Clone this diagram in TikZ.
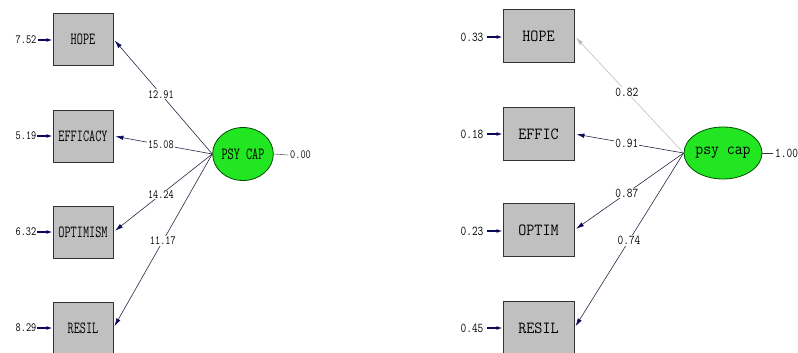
\documentclass[tikz,border=0pt]{standalone}
\usepackage{fontspec}
\usepackage{graphicx}
\usetikzlibrary{shapes.geometric,arrows.meta}
\definecolor{boxgray}{RGB}{192,192,192}
\definecolor{latgreen}{RGB}{34,230,34}
\definecolor{navy}{RGB}{10,10,90}
\definecolor{linedark}{RGB}{40,40,70}
\newcommand\sqz[2]{\scalebox{#1}[1]{#2}}
\tikzset{
  lbox/.style={draw=black!80, fill=boxgray, line width=0.9pt, minimum width=60pt, minimum height=52pt, inner sep=0pt, font=\ttfamily\fontsize{17}{17}\selectfont},
  rbox/.style={lbox, minimum width=71pt, minimum height=53pt},
  lat/.style={ellipse, draw=black!70!green, fill=latgreen, line width=0.8pt, inner sep=0pt, font=\ttfamily\fontsize{17}{17}\selectfont},
  numlab/.style={fill=white, inner sep=1pt, font=\ttfamily\fontsize{12.5}{12.5}\selectfont},
  rnumlab/.style={numlab, font=\ttfamily\fontsize{13.5}{13.5}\selectfont},
  errlab/.style={inner sep=0pt, font=\ttfamily\fontsize{12.5}{12.5}\selectfont},
  rerrlab/.style={errlab, font=\ttfamily\fontsize{13.5}{13.5}\selectfont},
  load/.style={draw=linedark, line width=0.6pt, -{Latex[length=8pt,width=4.5pt,fill=navy,color=navy]}, shorten >=2pt},
  loadgray/.style={draw=black!25, line width=0.6pt, -{Latex[length=8pt,width=4.5pt,fill=black!25,color=black!25]}, shorten >=2pt},
  erra/.style={draw=navy, line width=1.2pt, -{Latex[length=6pt,width=4pt]}},
  varline/.style={draw=black!60, line width=0.6pt}
}
\begin{document}
\begin{tikzpicture}[x=1pt,y=-1pt]
\useasboundingbox (0,0) rectangle (798,353);
% ---------- left model ----------
\node[lbox] (hopeL) at (83,39) {\sqz{0.7}{HOPE}};
\node[lbox] (effL) at (83,136) {\sqz{0.7}{EFFICACY}};
\node[lbox] (optL) at (83,232) {\sqz{0.7}{OPTIMISM}};
\node[lbox] (resL) at (83,328) {\sqz{0.7}{RESIL}};
\node[lat, minimum width=60pt, minimum height=53pt] (psyL) at (243,154) {\sqz{0.7}{PSY CAP}};
\node[errlab] (e1L) at (26,40) {\sqz{0.8}{7.52}};
\node[errlab] (e2L) at (26,136) {\sqz{0.8}{5.19}};
\node[errlab] (e3L) at (26,232) {\sqz{0.8}{6.32}};
\node[errlab] (e4L) at (26,328) {\sqz{0.8}{8.29}};
\draw[erra] ([xshift=1pt]e1L.east) -- (hopeL.west |- e1L.east);
\draw[erra] ([xshift=1pt]e2L.east) -- (effL.west |- e2L.east);
\draw[erra] ([xshift=1pt]e3L.east) -- (optL.west |- e3L.east);
\draw[erra] ([xshift=1pt]e4L.east) -- (resL.west |- e4L.east);
\draw[load] (psyL.west) -- (hopeL.east) node[numlab, pos=0.52] {\sqz{0.8}{12.91}};
\draw[load] (psyL.west) -- (effL.east) node[numlab, pos=0.52] {\sqz{0.8}{15.08}};
\draw[load] (psyL.west) -- (optL.east) node[numlab, pos=0.52] {\sqz{0.8}{14.24}};
\draw[load] (psyL.west) -- (resL.east) node[numlab, pos=0.5] {\sqz{0.8}{11.17}};
\node[errlab, anchor=west] (vL) at (290,155) {\sqz{0.8}{0.00}};
\draw[varline] (psyL.east) -- ([xshift=-2pt]vL.west);
% ---------- right model ----------
\node[rbox] (hopeR) at (538.5,36) {\sqz{0.92}{HOPE}};
\node[rbox] (effR) at (538.5,134) {\sqz{0.92}{EFFIC}};
\node[rbox] (optR) at (538.5,230) {\sqz{0.92}{OPTIM}};
\node[rbox] (resR) at (538.5,328) {\sqz{0.92}{RESIL}};
\node[lat, minimum width=70pt, minimum height=52pt] (psyR) at (723,153) {\sqz{0.9}{psy cap}};
\node[rerrlab] (e1R) at (472,37) {\sqz{0.82}{0.33}};
\node[rerrlab] (e2R) at (472,134) {\sqz{0.82}{0.18}};
\node[rerrlab] (e3R) at (472,231) {\sqz{0.82}{0.23}};
\node[rerrlab] (e4R) at (472,328) {\sqz{0.82}{0.45}};
\draw[erra] ([xshift=3pt]e1R.east) -- (hopeR.west |- e1R.east);
\draw[erra] ([xshift=3pt]e2R.east) -- (effR.west |- e2R.east);
\draw[erra] ([xshift=3pt]e3R.east) -- (optR.west |- e3R.east);
\draw[erra] ([xshift=3pt]e4R.east) -- (resR.west |- e4R.east);
\draw[loadgray] (psyR.west) -- (hopeR.east) node[rnumlab, pos=0.52] {\sqz{0.82}{0.82}};
\draw[load] (psyR.west) -- (effR.east) node[rnumlab, pos=0.52] {\sqz{0.82}{0.91}};
\draw[load] (psyR.west) -- (optR.east) node[rnumlab, pos=0.52] {\sqz{0.82}{0.87}};
\draw[load] (psyR.west) -- (resR.east) node[rnumlab, pos=0.5] {\sqz{0.82}{0.74}};
\node[rerrlab, anchor=west] (vR) at (775,153) {\sqz{0.82}{1.00}};
\draw[varline, draw=black!80] (psyR.east) -- ([xshift=-2pt]vR.west);
\end{tikzpicture}
\end{document}
